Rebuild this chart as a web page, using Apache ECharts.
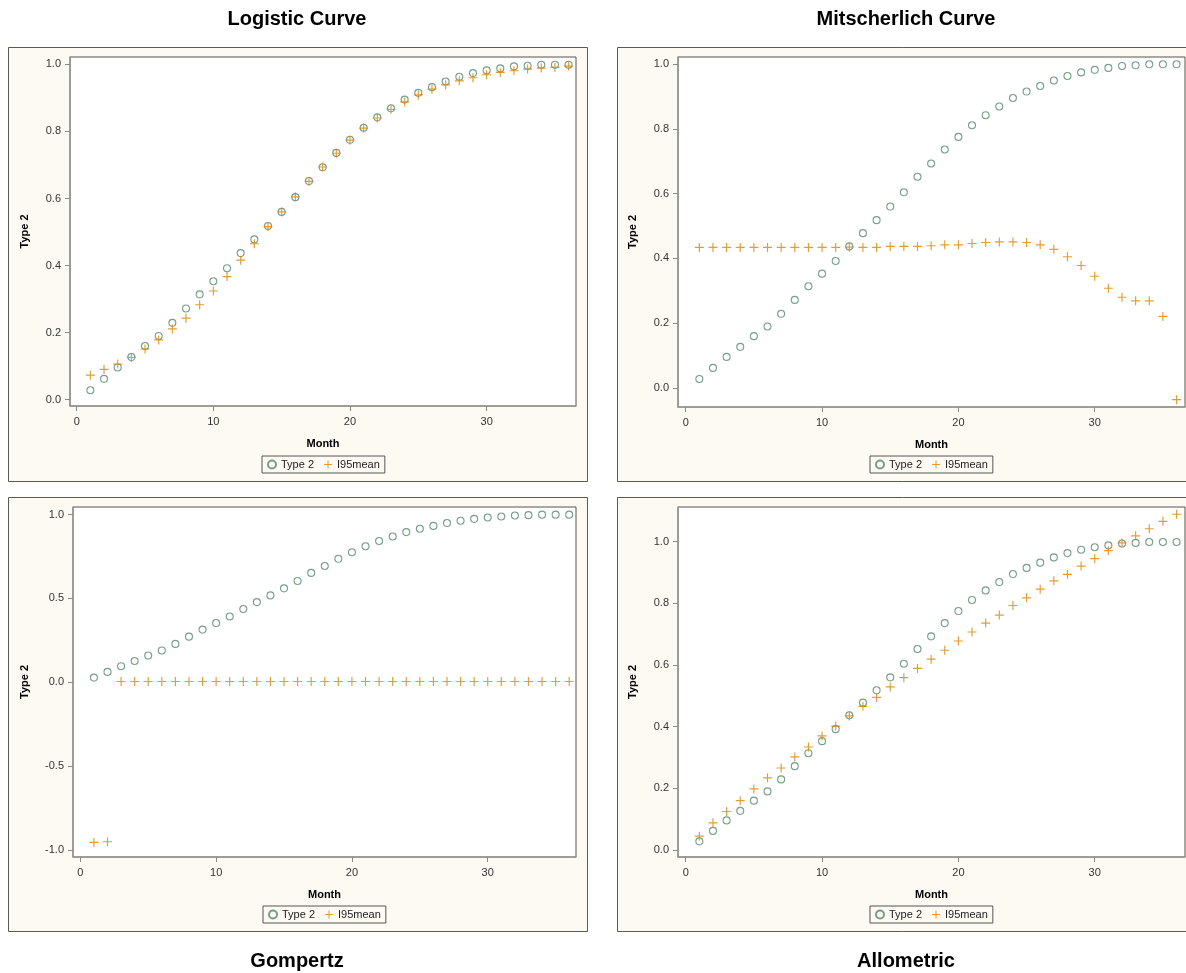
<!DOCTYPE html>
<html>
<head>
<meta charset="utf-8">
<script src="https://cdn.jsdelivr.net/npm/echarts@6/dist/echarts.min.js"></script>
<style>
html,body{margin:0;padding:0;background:#fff;}
#chart{width:1186px;height:973px;}
</style>
</head>
<body>
<div id="chart"></div>
<script>
// ---------- data ----------
const months = [1,2,3,4,5,6,7,8,9,10,11,12,13,14,15,16,17,18,19,20,21,22,23,24,25,26,27,28,29,30,31,32,33,34,35,36];
const panelTitles = ['Logistic Curve','Mitscherlich Curve','Gompertz','Allometric'];
const seriesNames = ['Type 2','I95mean'];
const xTicks = [0,10,20,30];
const yTicksA = [0,0.2,0.4,0.6,0.8,1.0];
const yTicksG = [-1.0,-0.5,0.0,0.5,1.0];

const type2 = [0.028,0.062,0.096,0.127,0.160,0.190,0.229,0.272,0.314,0.353,0.392,0.437,0.478,0.518,0.560,0.604,0.652,0.693,0.736,0.775,0.811,0.842,0.869,0.895,0.915,0.932,0.949,0.963,0.974,0.982,0.988,0.994,0.996,0.999,0.999,0.999];

const logisticL95 = [0.073,0.090,0.106,0.126,0.151,0.178,0.211,0.243,0.283,0.324,0.367,0.416,0.465,0.516,0.560,0.605,0.651,0.694,0.735,0.774,0.810,0.840,0.866,0.888,0.909,0.926,0.939,0.951,0.960,0.969,0.976,0.981,0.986,0.989,0.991,0.995];

const mitscherlichL95 = [0.434,0.434,0.434,0.434,0.434,0.434,0.434,0.434,0.434,0.434,0.434,0.435,0.434,0.434,0.437,0.437,0.437,0.439,0.442,0.442,0.446,0.449,0.451,0.451,0.449,0.442,0.428,0.405,0.378,0.345,0.308,0.280,0.269,0.269,0.221,-0.036];

const gompertzL95 = [-0.954,-0.950,0.005,0.005,0.005,0.005,0.005,0.005,0.005,0.005,0.005,0.005,0.005,0.005,0.005,0.005,0.005,0.005,0.005,0.005,0.005,0.005,0.005,0.005,0.005,0.005,0.005,0.005,0.005,0.005,0.005,0.005,0.005,0.005,0.005,0.005];

const allometricL95 = [0.045,0.088,0.125,0.160,0.198,0.234,0.266,0.302,0.334,0.370,0.402,0.435,0.466,0.495,0.529,0.559,0.589,0.619,0.648,0.678,0.707,0.736,0.762,0.793,0.818,0.846,0.873,0.894,0.921,0.945,0.971,0.996,1.019,1.042,1.066,1.089];

const lowerSets = [logisticL95, mitscherlichL95, gompertzL95, allometricL95];

// ---------- layout / style ----------
const FONT = 'Liberation Sans, Arial, Helvetica, sans-serif';
const GREEN = '#55876a';
const ORANGE = '#dc8400';
const PLUS = 'path://M4.35,0 L5.65,0 L5.65,4.35 L10,4.35 L10,5.65 L5.65,5.65 L5.65,10 L4.35,10 L4.35,5.65 L0,5.65 L0,4.35 L4.35,4.35 Z';

const panels = [
  {box:[8,47,579,434], grid:{left:70,top:57,width:506,height:349}, x:[-0.49,36.54], y:[-0.019,1.022], yt:yTicksA, nameGap:40, legend:[262,456], title:[297,9]},
  {box:[617,47,579,434], grid:{left:678,top:57,width:507,height:350}, x:[-0.565,36.62], y:[-0.0586,1.0216], yt:yTicksA, nameGap:40, legend:[870,456], title:[906,9]},
  {box:[8,497,579,434], grid:{left:73,top:507,width:503,height:350}, x:[-0.54,36.5], y:[-1.041,1.0447], yt:yTicksG, nameGap:43, legend:[263,906], title:[297,951]},
  {box:[617,497,579,434], grid:{left:678,top:507,width:507,height:350}, x:[-0.565,36.62], y:[-0.0227,1.1125], yt:yTicksA, nameGap:40, legend:[870,906], title:[906,951]}
];

const option = {
  animation:false,
  backgroundColor:'#ffffff',
  textStyle:{fontFamily:FONT},
  graphic: panels.map(p => ({
    type:'rect', z:-10, silent:true,
    shape:{x:p.box[0]+0.5, y:p.box[1]+0.5, width:p.box[2], height:p.box[3]},
    style:{fill:'#fdfaf3', stroke:'#5b5a4e', lineWidth:1}
  })),
  title: panels.map((p,i) => ({
    text: panelTitles[i], left:p.title[0], top:p.title[1], textAlign:'center', padding:0,
    textStyle:{fontFamily:FONT, fontSize:20, fontWeight:'bold', color:'#000'}
  })),
  legend: panels.map(p => ({
    data: seriesNames, left:p.legend[0], top:p.legend[1], orient:'horizontal',
    itemWidth:8, itemHeight:8, itemGap:10, padding:[3,5,3,5],
    borderColor:'#555', borderWidth:1, backgroundColor:'transparent',
    textStyle:{fontFamily:FONT, fontSize:11, color:'#222'}
  })),
  grid: panels.map(p => Object.assign({show:true, backgroundColor:'#ffffff', borderColor:'#55544a', borderWidth:1, containLabel:false}, p.grid)),
  xAxis: panels.map((p,i) => ({
    type:'value', gridIndex:i, min:p.x[0], max:p.x[1],
    name:'Month', nameLocation:'middle', nameGap:32,
    nameTextStyle:{fontFamily:FONT, fontSize:11, fontWeight:'bold', color:'#000'},
    axisLine:{show:true, onZero:false, lineStyle:{color:'#9a9a92', width:1.5}},
    axisTick:{show:true, length:5, customValues:xTicks, lineStyle:{color:'#8a8a82'}},
    axisLabel:{customValues:xTicks, margin:10, fontFamily:FONT, fontSize:11, color:'#333', formatter:v=>String(Math.round(v))},
    splitLine:{show:false}
  })),
  yAxis: panels.map((p,i) => ({
    type:'value', gridIndex:i, min:p.y[0], max:p.y[1],
    name:'Type 2', nameLocation:'middle', nameGap:p.nameGap, nameRotate:90,
    nameTextStyle:{fontFamily:FONT, fontSize:11, fontWeight:'bold', color:'#000'},
    axisLine:{show:true, onZero:false, lineStyle:{color:'#9a9a92', width:1.5}},
    axisTick:{show:true, length:5, customValues:p.yt, lineStyle:{color:'#8a8a82'}},
    axisLabel:{customValues:p.yt, margin:9, fontFamily:FONT, fontSize:11, color:'#333', formatter:v=>v.toFixed(1)},
    splitLine:{show:false}
  })),
  series: []
};

panels.forEach((p,i) => {
  option.series.push({
    name: seriesNames[0], type:'scatter', xAxisIndex:i, yAxisIndex:i,
    symbol:'circle', symbolSize:7,
    itemStyle:{color:'rgba(0,0,0,0)', borderColor:GREEN, borderWidth:1.1},
    data: months.map((m,k) => [m, type2[k]]), z:2
  });
  option.series.push({
    name: seriesNames[1], type:'scatter', xAxisIndex:i, yAxisIndex:i,
    symbol:PLUS, symbolSize:9,
    itemStyle:{color:ORANGE},
    data: months.map((m,k) => [m, lowerSets[i][k]]), z:3
  });
});

const chart = echarts.init(document.getElementById('chart'), null, {renderer:'canvas'});
chart.setOption(option);
</script>
</body>
</html>
